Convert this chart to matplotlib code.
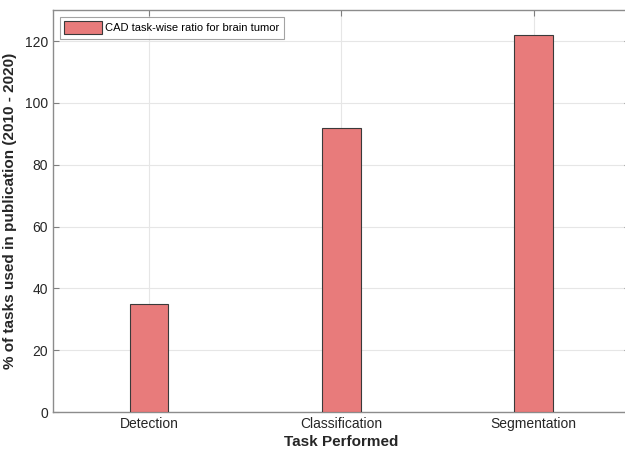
import numpy as np
import matplotlib.pyplot as plt

plt.rcParams['font.family'] = ['Liberation Sans', 'DejaVu Sans']

# data
tasks = ['Detection', 'Classification', 'Segmentation']
task_counts = [35, 92, 122]
legend_label = 'CAD task-wise ratio for brain tumor'

fig = plt.figure(figsize=(6.25, 4.5), dpi=100)
# right spine sits just past the image edge, as in the reference
ax = fig.add_axes([0.0848, 0.0844, 0.923, 0.893])

x = np.arange(1, len(tasks) + 1)
ax.bar(x, task_counts, width=0.2, color='#e87b7b', edgecolor='#3a3a3a',
       linewidth=0.8, label=legend_label, zorder=3)

ax.set_xlim(0.5, 3.5)
ax.set_ylim(0, 130)
ax.set_xticks(x)
ax.set_xticklabels(tasks)
ax.set_yticks(np.arange(0, 121, 20))

ax.grid(True, color='#e6e6e6', linewidth=0.8, zorder=0)
ax.tick_params(direction='in', top=True, right=True, length=4,
               color='#7f7f7f', labelcolor='#262626', labelsize=10)
for s in ax.spines.values():
    s.set_color('#8c8c8c')
    s.set_linewidth(1.0)

ax.set_xlabel('Task Performed', fontsize=11, fontweight='bold', color='#262626', labelpad=3)
ax.set_ylabel('% of tasks used in publication (2010 - 2020)', fontsize=11,
              fontweight='bold', color='#262626', labelpad=6)

leg = ax.legend(loc='upper left', fontsize=8, frameon=True, fancybox=False,
                handlelength=3.4, handleheight=1.4, borderpad=0.4,
                handletextpad=0.3, borderaxespad=0.6)
leg.get_frame().set_edgecolor('#8c8c8c')
leg.get_frame().set_linewidth(0.8)

fig.savefig('out.png', dpi=100)
